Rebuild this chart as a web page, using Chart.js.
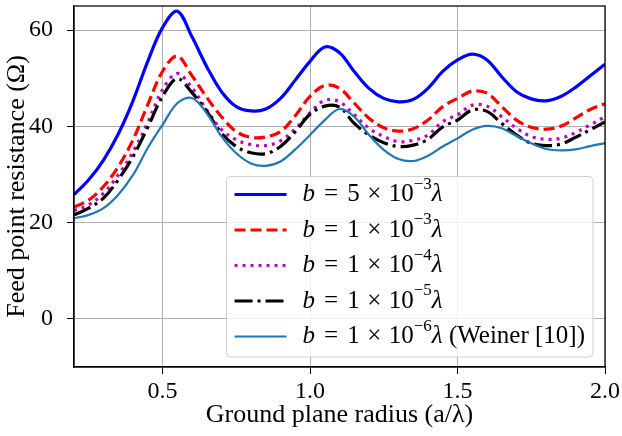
<!DOCTYPE html>
<html>
<head>
<meta charset="utf-8">
<script src="https://cdn.jsdelivr.net/npm/chart.js@4/dist/chart.umd.min.js"></script>
<style>
  html, body { margin: 0; padding: 0; background: #fff; }
  #wrap { width: 622px; height: 436px; }
</style>
</head>
<body>
<div id="wrap"><canvas id="chart" width="622" height="436"></canvas></div>
<script>
// ground plane radius a/lambda
const radius = [0.20, 0.25, 0.30, 0.35, 0.40, 0.45, 0.50, 0.55, 0.60, 0.65,
                0.70, 0.75, 0.80, 0.85, 0.90, 0.95, 1.00, 1.05, 1.10, 1.15,
                1.20, 1.25, 1.30, 1.35, 1.40, 1.45, 1.50, 1.55, 1.60, 1.65,
                1.70, 1.75, 1.80, 1.85, 1.90, 1.95, 2.00];

// feed point resistance (ohm) per wire radius b
const r5e3 = [25.8, 28.9, 33.0, 38.4, 45.3, 53.5, 60.5, 63.9, 58.6, 52.4,
              47.2, 44.1, 43.2, 43.6, 45.8, 49.6, 53.5, 56.5, 55.3, 51.4,
              47.9, 45.8, 45.1, 45.6, 47.9, 51.4, 53.8, 55.0, 53.8, 50.3,
              47.2, 45.7, 45.3, 46.2, 48.1, 50.5, 52.9];
const r1e3 = [23.2, 24.7, 27.5, 31.6, 37.2, 44.5, 51.4, 54.6, 50.5, 46.0,
              42.0, 38.9, 37.7, 37.8, 38.9, 42.2, 46.2, 48.5, 47.9, 44.8,
              41.7, 39.7, 39.0, 39.5, 41.3, 44.1, 45.8, 47.3, 46.9, 44.1,
              41.3, 39.8, 39.4, 40.0, 41.7, 43.5, 44.7];
const r1e4 = [22.5, 23.7, 26.1, 29.9, 34.7, 40.8, 47.6, 51.0, 48.0, 43.4,
              39.3, 37.2, 36.2, 36.0, 37.0, 39.5, 42.8, 45.4, 45.1, 42.4,
              39.6, 37.9, 36.8, 37.1, 38.2, 41.0, 42.4, 44.4, 44.2, 42.0,
              39.6, 37.9, 37.3, 37.5, 38.7, 40.3, 42.0];
const r1e5 = [21.6, 23.0, 25.1, 28.9, 33.7, 39.8, 46.2, 49.9, 47.0, 43.1,
              38.6, 35.8, 34.5, 34.3, 35.8, 38.9, 42.5, 44.2, 44.0, 40.6,
              38.2, 36.6, 35.8, 36.1, 37.3, 39.9, 41.3, 43.4, 43.1, 40.6,
              38.2, 36.5, 36.0, 36.3, 37.7, 39.3, 40.9];
const r1e6 = [20.9, 21.6, 23.0, 25.8, 29.9, 35.5, 40.3, 44.8, 45.9, 42.7,
              37.9, 34.4, 32.3, 31.8, 32.7, 35.2, 38.2, 41.3, 43.6, 42.0,
              38.2, 35.1, 33.2, 32.8, 33.9, 35.8, 37.5, 39.3, 40.1, 39.6,
              38.0, 36.5, 35.3, 35.0, 35.2, 35.9, 36.5];

// legend label pieces: b = coef x 10^exp lambda suffix
const labelCoef = ['5', '1', '1', '1', '1'];
const labelExp = ['\u22123', '\u22123', '\u22124', '\u22125', '\u22126'];
const labelSuffix = ['', '', '', '', ' (Weiner [10])'];

const xTicks = [0.5, 1.0, 1.5, 2.0];
const yTicks = [0, 20, 40, 60];

const FONT = '"Liberation Serif", "DejaVu Serif", serif';
const LEG = 25;

function pts(ys) {
    return radius.map((x, i) => ({ x: x, y: ys[i] }));
}

const styles = [
    { color: '#0000ff', width: 3.2, dash: [] },
    { color: '#ff0000', width: 3.2, dash: [11, 5] },
    { color: '#bf00bf', width: 3.2, dash: [3, 5] },
    { color: '#000000', width: 3.2, dash: [18, 5, 3, 5] },
    { color: '#1f77b4', width: 2.2, dash: [] }
];
const series = [r5e3, r1e3, r1e4, r1e5, r1e6];

const datasets = series.map((s, i) => ({
    label: 'b = ' + labelCoef[i] + ' \u00d7 10^' + labelExp[i] + '\u03bb' + labelSuffix[i],
    data: pts(s),
    borderColor: styles[i].color,
    borderWidth: styles[i].width,
    borderDash: styles[i].dash,
    borderCapStyle: 'butt',
    pointRadius: 0,
    tension: 0.35,
    fill: false,
    order: 4 - i
}));

// math-ish label: gaps are in em, like TeX spacing round = and x
function drawLabel(ctx, x, y, i) {
    const parts = [
        ['b', 'it', 0.36],
        ['=', '', 0.36],
        [labelCoef[i], '', 0.3],
        ['\u00d7', '', 0.3],
        ['10', '', 0],
        [labelExp[i], 'sup', 0],
        ['\u03bb', 'it', 0],
        [labelSuffix[i], '', 0]
    ];
    for (const [t, kind, gap] of parts) {
        const size = kind === 'sup' ? 17 : LEG;
        ctx.font = (kind === 'it' ? 'italic ' : '') + size + 'px ' + FONT;
        ctx.fillText(t, x, kind === 'sup' ? y - 10 : y);
        x += ctx.measureText(t).width + gap * LEG;
    }
    return x;
}

function labelWidth(ctx, i) {
    ctx.save();
    ctx.globalAlpha = 0;
    const w = drawLabel(ctx, 0, -100, i);
    ctx.restore();
    return w;
}

// frame around plot + legend in lower right corner
const frameLegend = {
    id: 'frameLegend',
    afterDraw(chart) {
        const ctx = chart.ctx;
        const a = chart.chartArea;
        ctx.save();
        ctx.strokeStyle = '#000';
        ctx.lineWidth = 1.25;
        ctx.strokeRect(a.left, a.top, a.right - a.left, a.bottom - a.top);

        const rowH = 35.5;
        let maxW = 0;
        for (let i = 0; i < datasets.length; i++) maxW = Math.max(maxW, labelWidth(ctx, i));
        const boxW = 8 + 52 + 16 + maxW + 8;
        const boxH = rowH * datasets.length + 3;
        const bx = a.right - 12 - boxW;
        const by = a.bottom - 10 - boxH;

        ctx.beginPath();
        ctx.roundRect(bx, by, boxW, boxH, 4);
        ctx.fillStyle = 'rgba(255,255,255,0.8)';
        ctx.fill();
        ctx.strokeStyle = '#d0d0d0';
        ctx.lineWidth = 1;
        ctx.stroke();

        datasets.forEach((ds, i) => {
            const cy = by + 18 + i * rowH;
            ctx.beginPath();
            ctx.setLineDash(ds.borderDash);
            ctx.lineCap = 'butt';
            ctx.strokeStyle = ds.borderColor;
            ctx.lineWidth = ds.borderWidth;
            ctx.moveTo(bx + 8, cy);
            ctx.lineTo(bx + 60, cy);
            ctx.stroke();
            ctx.setLineDash([]);
            ctx.fillStyle = '#000';
            ctx.textBaseline = 'middle';
            ctx.textAlign = 'left';
            drawLabel(ctx, bx + 76, cy, i);
        });
        ctx.restore();
    }
};

new Chart(document.getElementById('chart'), {
    type: 'line',
    data: { datasets: datasets },
    plugins: [frameLegend],
    options: {
        responsive: false,
        animation: false,
        devicePixelRatio: 1,
        layout: { padding: { left: 0, right: 17, top: 6, bottom: 0 } },
        plugins: {
            legend: { display: false },
            tooltip: { enabled: false }
        },
        scales: {
            x: {
                type: 'linear',
                min: 0.2,
                max: 2.0,
                afterBuildTicks: s => { s.ticks = xTicks.map(v => ({ value: v })); },
                afterFit: s => { s.height = 69; s.paddingLeft = 0; s.paddingRight = 0; },
                ticks: {
                    callback: v => v.toFixed(1),
                    color: '#000',
                    font: { family: FONT, size: 24 },
                    padding: 3,
                    maxRotation: 0
                },
                grid: { color: '#b0b0b0', lineWidth: 1, tickColor: '#000', tickLength: 7 },
                border: { color: '#000', width: 1.25 },
                title: {
                    display: true,
                    text: 'Ground plane radius (a/\u03bb)',
                    color: '#000',
                    font: { family: FONT, size: 26 },
                    padding: { top: 0, bottom: 5 }
                }
            },
            y: {
                min: -10,
                max: 65,
                afterBuildTicks: s => { s.ticks = yTicks.map(v => ({ value: v })); },
                afterFit: s => { s.width = 74; s.paddingTop = 0; s.paddingBottom = 0; },
                ticks: {
                    color: '#000',
                    font: { family: FONT, size: 24 },
                    padding: 14
                },
                grid: { color: '#b0b0b0', lineWidth: 1, tickColor: '#000', tickLength: 7 },
                border: { color: '#000', width: 1.25 },
                title: {
                    display: true,
                    text: 'Feed point resistance (\u03a9)',
                    color: '#000',
                    font: { family: FONT, size: 26 },
                    padding: { top: 2, bottom: 0 }
                }
            }
        }
    }
});
</script>
</body>
</html>
